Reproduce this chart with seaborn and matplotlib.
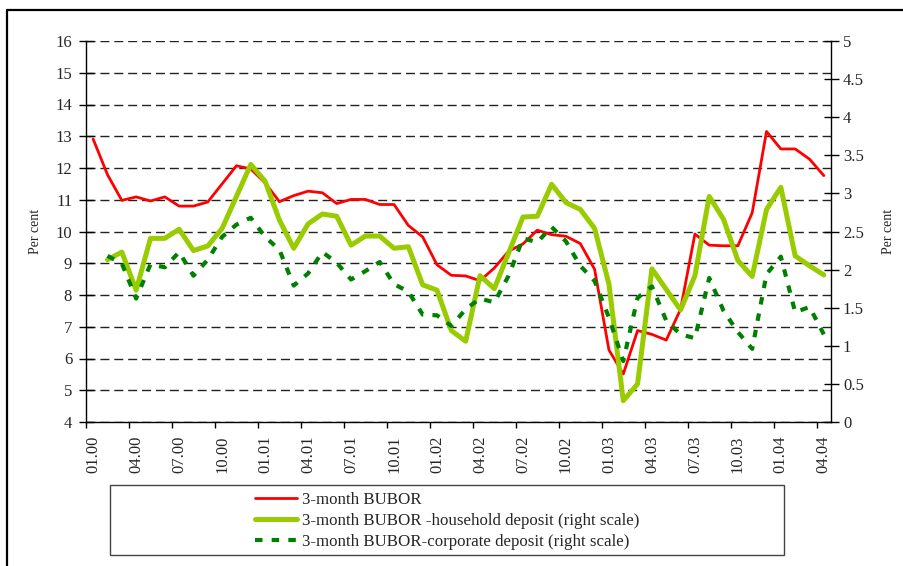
import numpy as np
import pandas as pd
import matplotlib
matplotlib.use("Agg")
import matplotlib.pyplot as plt
import seaborn as sns
from matplotlib.lines import Line2D
from matplotlib.patches import Rectangle

# ---------------- data (monthly, 01.2000 - 04.2004) ----------------
tick_labels = ["01.00", "04.00", "07.00", "10.00", "01.01", "04.01", "07.01",
               "10.01", "01.02", "04.02", "07.02", "10.02", "01.03", "04.03",
               "07.03", "10.03", "01.04", "04.04"]

bubor = [12.91, 11.79, 10.98, 11.09, 10.96, 11.09, 10.80, 10.80, 10.93, 11.50,
         12.07, 11.97, 11.53, 10.94, 11.13, 11.27, 11.22, 10.88, 11.01, 11.01,
         10.85, 10.85, 10.19, 9.83, 8.95, 8.62, 8.60, 8.45, 8.85, 9.38,
         9.61, 10.04, 9.90, 9.85, 9.62, 8.81, 6.27, 5.51, 6.88, 6.76,
         6.58, 7.55, 9.92, 9.57, 9.55, 9.55, 10.59, 13.15, 12.60, 12.60,
         12.28, 11.76]

household = [np.nan, 2.13, 2.23, 1.73, 2.41, 2.41, 2.53, 2.25, 2.31, 2.54,
             2.96, 3.38, 3.16, 2.65, 2.28, 2.60, 2.73, 2.70, 2.32, 2.44,
             2.44, 2.28, 2.30, 1.80, 1.73, 1.20, 1.06, 1.92, 1.75, 2.22,
             2.69, 2.70, 3.12, 2.88, 2.79, 2.54, 1.81, 0.28, 0.50, 2.01,
             1.74, 1.47, 1.92, 2.96, 2.66, 2.12, 1.91, 2.79, 3.08, 2.18,
             2.05, 1.93]

corporate = [np.nan, 2.18, 2.08, 1.62, 2.07, 2.03, 2.23, 1.92, 2.13, 2.43,
             2.59, 2.68, 2.43, 2.26, 1.79, 1.95, 2.23, 2.09, 1.87, 1.98,
             2.10, 1.81, 1.71, 1.41, 1.40, 1.26, 1.48, 1.62, 1.57, 1.92,
             2.41, 2.36, 2.56, 2.37, 2.05, 1.85, 1.37, 0.80, 1.63, 1.78,
             1.33, 1.15, 1.10, 1.89, 1.46, 1.18, 0.96, 1.94, 2.17, 1.44,
             1.51, 1.15]

series_names = ["3-month BUBOR",
                "3-month BUBOR -household deposit (right scale)",
                "3-month BUBOR-corporate deposit (right scale)"]

df = pd.DataFrame({"idx": np.arange(len(bubor)),
                   "bubor": bubor, "household": household, "corporate": corporate})

# ---------------- style ----------------
sns.set_theme(style="white")
plt.rcParams["font.family"] = ["Liberation Serif", "DejaVu Serif"]

RED = "#FF0000"
LGREEN = "#99CC00"
DGREEN = "#008000"
corp_ls = (0, (1.8, 2.2))

W, H = 904, 566
fig = plt.figure(figsize=(W / 100, H / 100), dpi=100)
ax = fig.add_axes([86 / W, 1 - 422 / H, 745 / W, 381 / H])
ax2 = ax.twinx()

sns.lineplot(data=df, x="idx", y="bubor", ax=ax, color=RED, linewidth=2.0)
sns.lineplot(data=df, x="idx", y="household", ax=ax2, color=LGREEN, linewidth=3.6)
sns.lineplot(data=df, x="idx", y="corporate", ax=ax2, color=DGREEN, linewidth=3.0,
             linestyle=corp_ls)

# axes limits & ticks
ax.set_xlim(-0.5, len(bubor) - 0.5)
ax.set_ylim(4, 16)
ax2.set_ylim(0, 5)

ax.set_yticks(np.arange(4, 17, 1))
ax.set_yticklabels([f"{v:g}" for v in np.arange(4, 17, 1)], fontsize=12)
r_ticks = np.arange(0, 5.01, 0.5)
ax2.set_yticks(r_ticks)
ax2.set_yticklabels([f"{v:g}" for v in r_ticks], fontsize=12)

pos = np.arange(0, len(bubor), 3)
ax.set_xticks(pos)
ax.set_xticklabels(tick_labels, rotation=90, fontsize=12)
ax.set_xticks(np.arange(-0.5, len(bubor) - 1, 3), minor=True)
ax.tick_params(axis="x", which="major", length=0, pad=9.5)
ax.tick_params(axis="x", which="minor", length=4.5, width=1, direction="out",
               color="black", bottom=True)

ax.tick_params(axis="y", which="major", direction="inout", length=10.8, width=1,
               color="black", pad=4.5, left=True)
ax2.tick_params(axis="y", which="major", direction="inout", length=10.8, width=1,
                color="black", pad=3.2, right=True)

ax.set_xlabel("")
ax.set_ylabel("Per cent", fontsize=10)
ax2.set_ylabel("Per cent", fontsize=10)
ax.yaxis.set_label_coords((42 - 86) / 745, 0.5)
ax2.yaxis.set_label_coords((882 - 86) / 745, 0.5)

# grid
ax.grid(axis="y", color="#222222", linestyle=(0, (6.5, 3.5)), linewidth=1.0)
ax.grid(axis="x", visible=False)
ax2.grid(False)
ax.set_axisbelow(True)

# spines
for a in (ax, ax2):
    for s in a.spines.values():
        s.set_color("black")
        s.set_linewidth(1.0)
    a.spines["top"].set_visible(False)
ax.spines["right"].set_visible(False)
ax2.spines["left"].set_visible(False)
ax2.spines["bottom"].set_visible(False)

# legend box + legend
fig.add_artist(Rectangle((110.5 / W, 1 - 555 / H), 673.5 / W, 70 / H,
                         transform=fig.transFigure, fill=False,
                         edgecolor="#444444", linewidth=1.0))
handles = [Line2D([], [], color=RED, linewidth=2.0),
           Line2D([], [], color=LGREEN, linewidth=3.6),
           Line2D([], [], color=DGREEN, linewidth=3.0, linestyle=corp_ls)]
fig.legend(handles, series_names, loc="center left",
           bbox_to_anchor=(255 / W, 1 - 521 / H), frameon=False, fontsize=12.2,
           handlelength=2.5, handletextpad=0.25, labelspacing=0.32,
           borderpad=0, borderaxespad=0)

# outer frame (left and top edges visible)
fig.add_artist(Line2D([7 / W, 7 / W], [0, 1 - 10 / H], transform=fig.transFigure,
                      color="black", linewidth=1.6))
fig.add_artist(Line2D([7 / W, 1], [1 - 10 / H, 1 - 10 / H], transform=fig.transFigure,
                      color="black", linewidth=1.6))

fig.savefig("out.png", dpi=100)
